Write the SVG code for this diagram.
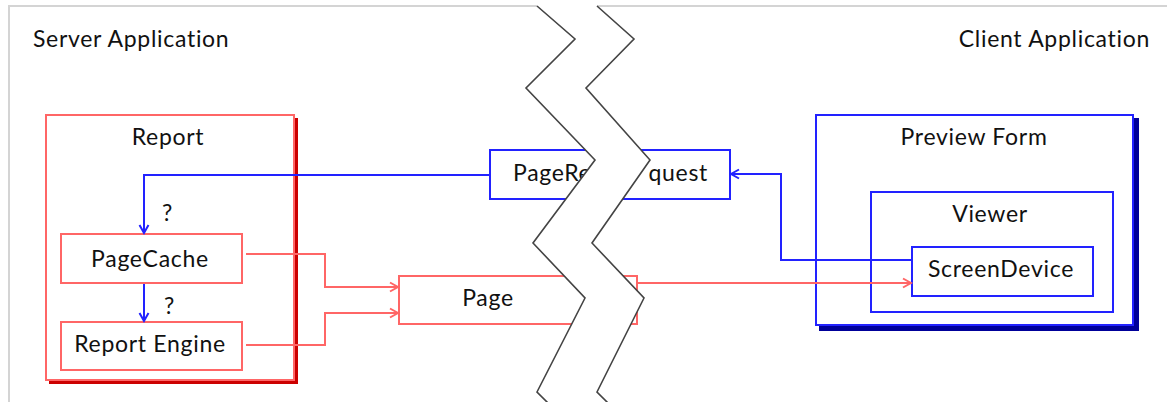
<svg xmlns="http://www.w3.org/2000/svg" width="1167" height="402" viewBox="0 0 1167 402">
  <style>
    text { font-family: Lato, "Open Sans", "DejaVu Sans", sans-serif; font-size: 23px; letter-spacing: 0.7px; fill: #111; }
    .mid { text-anchor: middle; }
    .rbox { fill: #fff; stroke: #ff6666; stroke-width: 2; }
    .bbox { fill: #fff; stroke: #2222ff; stroke-width: 2; }
    .rline { fill: none; stroke: #ff6666; stroke-width: 2; }
    .bline { fill: none; stroke: #2222ff; stroke-width: 2; }
    .frame { fill: none; stroke: #d4d4d4; stroke-width: 2; }
    .zig { fill: none; stroke: #444; stroke-width: 1.6; stroke-linejoin: miter; }
  </style>
  <defs>
    <marker id="arrR" markerUnits="userSpaceOnUse" markerWidth="12" markerHeight="12" refX="10" refY="6" orient="auto">
      <path d="M2,1.5 L10,6 L2,10.5" fill="none" stroke="#ff6666" stroke-width="2"/>
    </marker>
    <marker id="arrB" markerUnits="userSpaceOnUse" markerWidth="12" markerHeight="12" refX="10" refY="6" orient="auto">
      <path d="M2,1.5 L10,6 L2,10.5" fill="none" stroke="#2222ff" stroke-width="2"/>
    </marker>
  </defs>

  <rect width="1167" height="402" fill="#fff"/>

  <g id="frame">
    <path class="frame" d="M9,402 V6 H537 M597,6 H1167"/>
    <text x="33" y="47">Server Application</text>
    <text x="1150" y="47" text-anchor="end">Client Application</text>
  </g>

  <g id="report">
    <path d="M296,118 V382 H49" fill="none" stroke="#cc0000" stroke-width="4"/>
    <rect class="rbox" x="46" y="115" width="248" height="265"/>
    <text class="mid" x="168" y="145">Report</text>
  </g>

  <g id="pagecache">
    <rect class="rbox" x="61" y="234" width="181" height="49"/>
    <text class="mid" x="150" y="267">PageCache</text>
  </g>

  <g id="report-engine">
    <rect class="rbox" x="61" y="322" width="181" height="48"/>
    <text class="mid" x="150" y="352">Report Engine</text>
  </g>

  <g id="page-request">
    <rect class="bbox" x="490" y="150" width="240" height="49"/>
    <text x="513" y="181">PageRe<tspan dx="57">quest</tspan></text>
  </g>

  <g id="page">
    <rect class="rbox" x="399" y="276" width="238" height="48"/>
    <text class="mid" x="488" y="306">Page</text>
  </g>

  <g id="preview-form">
    <path d="M1136,118 V328 H819" fill="none" stroke="#000099" stroke-width="6"/>
    <rect class="bbox" x="816" y="115" width="317" height="210"/>
    <text class="mid" x="974" y="145">Preview Form</text>
  </g>

  <g id="viewer">
    <rect class="bbox" x="871" y="192" width="242" height="120"/>
    <text class="mid" x="990" y="222">Viewer</text>
  </g>

  <g id="screen-device">
    <rect class="bbox" x="912" y="247" width="181" height="49"/>
    <text class="mid" x="1001" y="277">ScreenDevice</text>
  </g>

  <g id="connectors">
    <path class="bline" d="M490,175 H144 V233" marker-end="url(#arrB)"/>
    <path class="bline" d="M144,284 V321" marker-end="url(#arrB)"/>
    <path class="bline" d="M912,260 H781 V174 H731" marker-end="url(#arrB)"/>
    <path class="rline" d="M246,254 H325 V287 H398" marker-end="url(#arrR)"/>
    <path class="rline" d="M246,345 H325 V313 H398" marker-end="url(#arrR)"/>
    <path class="rline" d="M637,283 H911" marker-end="url(#arrR)"/>
    <text x="162" y="221">?</text>
    <text x="164" y="314">?</text>
  </g>

  <g id="break">
    <polygon fill="#fff" points="537,6 575,39 526,88 595,160 533,243 585,298 537,392 550,405 610,405 597,392 644,298 592,243 650,160 586,88 634,39 597,6"/>
    <polyline class="zig" points="537,6 575,39 526,88 595,160 533,243 585,298 537,392 550,405"/>
    <polyline class="zig" points="597,6 634,39 586,88 650,160 592,243 644,298 597,392 610,405"/>
  </g>
</svg>
